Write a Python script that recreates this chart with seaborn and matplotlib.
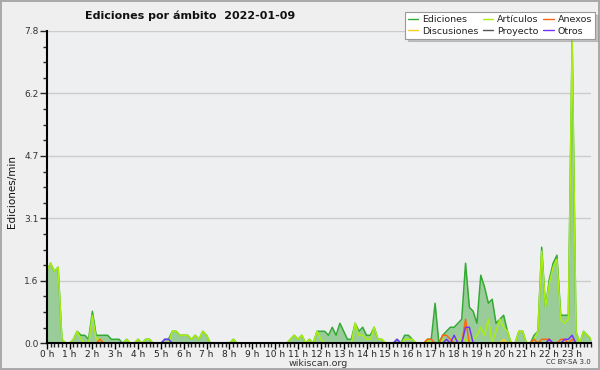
import matplotlib
matplotlib.use("Agg")
import matplotlib.pyplot as plt
from matplotlib.lines import Line2D
from matplotlib.ticker import FixedLocator, MultipleLocator
import pandas as pd
import seaborn as sns


# one value every 10 minutes, one row per hour (edits/min)
EDICIONES = [
    1.8, 2.0, 1.8, 1.9, 0.1, 0.0,
    0.0, 0.1, 0.3, 0.2, 0.2, 0.1,
    0.8, 0.2, 0.2, 0.2, 0.2, 0.1,
    0.1, 0.1, 0.0, 0.1, 0.0, 0.0,
    0.1, 0.0, 0.1, 0.1, 0.0, 0.0,
    0.0, 0.1, 0.1, 0.3, 0.3, 0.2,
    0.2, 0.2, 0.1, 0.2, 0.1, 0.3,
    0.2, 0.0, 0.0, 0.0, 0.0, 0.0,
    0.0, 0.1, 0.0, 0.0, 0.0, 0.0,
    0.0, 0.0, 0.0, 0.0, 0.0, 0.0,
    0.0, 0.0, 0.0, 0.0, 0.1, 0.2,
    0.1, 0.2, 0.0, 0.1, 0.0, 0.3,
    0.3, 0.3, 0.2, 0.4, 0.2, 0.5,
    0.3, 0.1, 0.1, 0.5, 0.3, 0.4,
    0.2, 0.2, 0.4, 0.1, 0.1, 0.0,
    0.0, 0.0, 0.1, 0.0, 0.2, 0.2,
    0.1, 0.0, 0.0, 0.0, 0.1, 0.1,
    1.0, 0.0, 0.2, 0.3, 0.4, 0.4,
    0.5, 0.6, 2.0, 0.9, 0.8, 0.5,
    1.7, 1.4, 1.0, 1.1, 0.5, 0.6,
    0.7, 0.3, 0.0, 0.0, 0.3, 0.3,
    0.0, 0.0, 0.2, 0.3, 2.4, 0.9,
    1.6, 2.0, 2.2, 0.7, 0.7, 0.7,
    7.6, 0.3, 0.0, 0.3, 0.2, 0.1,
]

ARTICULOS = [
    1.8, 2.0, 1.8, 1.9, 0.1, 0.0,
    0.0, 0.1, 0.3, 0.1, 0.0, 0.0,
    0.7, 0.1, 0.1, 0.0, 0.0, 0.0,
    0.0, 0.0, 0.0, 0.1, 0.0, 0.0,
    0.1, 0.0, 0.1, 0.1, 0.0, 0.0,
    0.0, 0.0, 0.0, 0.3, 0.3, 0.2,
    0.2, 0.2, 0.1, 0.2, 0.1, 0.3,
    0.2, 0.0, 0.0, 0.0, 0.0, 0.0,
    0.0, 0.1, 0.0, 0.0, 0.0, 0.0,
    0.0, 0.0, 0.0, 0.0, 0.0, 0.0,
    0.0, 0.0, 0.0, 0.0, 0.1, 0.2,
    0.1, 0.2, 0.0, 0.1, 0.0, 0.3,
    0.1, 0.0, 0.0, 0.0, 0.0, 0.0,
    0.0, 0.0, 0.0, 0.5, 0.2, 0.2,
    0.1, 0.1, 0.4, 0.1, 0.1, 0.0,
    0.0, 0.0, 0.0, 0.0, 0.1, 0.1,
    0.1, 0.0, 0.0, 0.0, 0.1, 0.0,
    0.0, 0.0, 0.1, 0.0, 0.1, 0.1,
    0.1, 0.1, 0.1, 0.0, 0.1, 0.2,
    0.4, 0.2, 0.6, 0.0, 0.3, 0.6,
    0.4, 0.3, 0.0, 0.0, 0.3, 0.3,
    0.0, 0.0, 0.1, 0.3, 2.3, 0.9,
    1.5, 1.9, 2.1, 0.6, 0.5, 0.6,
    7.6, 0.3, 0.0, 0.3, 0.2, 0.1,
]

ANEXOS = [
    0.0, 0.0, 0.0, 0.0, 0.0, 0.0,
    0.0, 0.0, 0.0, 0.0, 0.0, 0.0,
    0.0, 0.0, 0.1, 0.0, 0.0, 0.0,
    0.0, 0.0, 0.0, 0.0, 0.0, 0.0,
    0.0, 0.0, 0.0, 0.0, 0.0, 0.0,
    0.0, 0.0, 0.0, 0.0, 0.0, 0.0,
    0.0, 0.0, 0.0, 0.0, 0.0, 0.0,
    0.0, 0.0, 0.0, 0.0, 0.0, 0.0,
    0.0, 0.0, 0.0, 0.0, 0.0, 0.0,
    0.0, 0.0, 0.0, 0.0, 0.0, 0.0,
    0.0, 0.0, 0.0, 0.0, 0.0, 0.0,
    0.0, 0.0, 0.0, 0.0, 0.0, 0.0,
    0.0, 0.0, 0.0, 0.0, 0.0, 0.0,
    0.0, 0.0, 0.0, 0.0, 0.0, 0.0,
    0.0, 0.0, 0.0, 0.0, 0.0, 0.0,
    0.0, 0.0, 0.0, 0.0, 0.0, 0.0,
    0.0, 0.0, 0.0, 0.0, 0.1, 0.1,
    0.0, 0.0, 0.2, 0.2, 0.1, 0.0,
    0.0, 0.0, 0.6, 0.0, 0.0, 0.0,
    0.0, 0.0, 0.0, 0.0, 0.0, 0.0,
    0.0, 0.0, 0.0, 0.0, 0.0, 0.0,
    0.0, 0.0, 0.1, 0.0, 0.1, 0.1,
    0.1, 0.0, 0.0, 0.1, 0.1, 0.0,
    0.1, 0.0, 0.0, 0.0, 0.0, 0.0,
]

OTROS = [
    0.0, 0.0, 0.0, 0.0, 0.0, 0.0,
    0.0, 0.0, 0.0, 0.0, 0.0, 0.0,
    0.0, 0.0, 0.0, 0.0, 0.0, 0.0,
    0.0, 0.0, 0.0, 0.0, 0.0, 0.0,
    0.0, 0.0, 0.0, 0.0, 0.0, 0.0,
    0.0, 0.1, 0.1, 0.0, 0.0, 0.0,
    0.0, 0.0, 0.0, 0.0, 0.0, 0.0,
    0.0, 0.0, 0.0, 0.0, 0.0, 0.0,
    0.0, 0.0, 0.0, 0.0, 0.0, 0.0,
    0.0, 0.0, 0.0, 0.0, 0.0, 0.0,
    0.0, 0.0, 0.0, 0.0, 0.0, 0.0,
    0.0, 0.0, 0.0, 0.0, 0.0, 0.0,
    0.0, 0.0, 0.0, 0.0, 0.0, 0.0,
    0.0, 0.0, 0.0, 0.0, 0.0, 0.0,
    0.0, 0.0, 0.0, 0.0, 0.0, 0.0,
    0.0, 0.0, 0.1, 0.0, 0.0, 0.0,
    0.0, 0.0, 0.0, 0.0, 0.0, 0.0,
    0.0, 0.0, 0.0, 0.1, 0.0, 0.2,
    0.0, 0.0, 0.4, 0.4, 0.0, 0.0,
    0.0, 0.0, 0.0, 0.0, 0.0, 0.0,
    0.0, 0.0, 0.0, 0.0, 0.0, 0.0,
    0.0, 0.0, 0.0, 0.0, 0.0, 0.0,
    0.1, 0.0, 0.0, 0.0, 0.1, 0.1,
    0.2, 0.0, 0.0, 0.0, 0.0, 0.0,
]

DISCUSIONES = [
    0.0, 0.0, 0.0, 0.0, 0.0, 0.0,
    0.0, 0.0, 0.0, 0.0, 0.0, 0.0,
    0.0, 0.0, 0.0, 0.0, 0.0, 0.0,
    0.0, 0.0, 0.0, 0.0, 0.0, 0.0,
    0.0, 0.0, 0.0, 0.0, 0.0, 0.0,
    0.0, 0.0, 0.0, 0.0, 0.0, 0.0,
    0.0, 0.0, 0.0, 0.0, 0.0, 0.0,
    0.0, 0.0, 0.0, 0.0, 0.0, 0.0,
    0.0, 0.0, 0.0, 0.0, 0.0, 0.0,
    0.0, 0.0, 0.0, 0.0, 0.0, 0.0,
    0.0, 0.0, 0.0, 0.0, 0.0, 0.0,
    0.0, 0.0, 0.0, 0.0, 0.0, 0.0,
    0.0, 0.0, 0.0, 0.0, 0.0, 0.0,
    0.0, 0.0, 0.0, 0.0, 0.0, 0.0,
    0.0, 0.0, 0.0, 0.0, 0.0, 0.0,
    0.0, 0.0, 0.0, 0.0, 0.0, 0.0,
    0.0, 0.0, 0.0, 0.0, 0.0, 0.0,
    0.0, 0.0, 0.0, 0.0, 0.0, 0.0,
    0.0, 0.0, 0.0, 0.0, 0.0, 0.0,
    0.0, 0.0, 0.0, 0.0, 0.0, 0.0,
    0.1, 0.0, 0.0, 0.0, 0.0, 0.0,
    0.0, 0.0, 0.0, 0.0, 0.0, 0.0,
    0.0, 0.0, 0.0, 0.0, 0.0, 0.0,
    0.0, 0.0, 0.0, 0.0, 0.0, 0.0,
]

HOUR_LABELS = [f"{h} h" for h in range(24)]
Y_TICKS = [0.0, 1.56, 3.12, 4.68, 6.24, 7.8]
Y_LABELS = ["0.0", "1.6", "3.1", "4.7", "6.2", "7.8"]

COLORS = {
    "Ediciones": "#33aa33",
    "Artículos": "#aaee11",
    "Anexos": "#ff6611",
    "Discusiones": "#ffcc22",
    "Proyecto": "#555555",
    "Otros": "#7733ff",
}
FILL = "#99cc99"

series = {
    "Ediciones": EDICIONES,
    "Artículos": ARTICULOS,
    "Proyecto": [0.0] * len(EDICIONES),
    "Discusiones": DISCUSIONES,
    "Anexos": ANEXOS,
    "Otros": OTROS,
}
frames = []
for name, vals in series.items():
    frames.append(pd.DataFrame({"slot": range(len(vals)), "value": vals, "serie": name}))
df = pd.concat(frames, ignore_index=True)

sns.set_theme(style="ticks")
plt.rcParams["font.family"] = ["DejaVu Sans"]

fig = plt.figure(figsize=(6, 3.7), dpi=100)
fig.patch.set_facecolor("#efefef")
fig.patch.set_edgecolor("#aaaaaa")
fig.patch.set_linewidth(1.5)

ax = fig.add_axes([46.7 / 600, 26.7 / 370, 544.5 / 600, 312.3 / 370])
ax.set_facecolor("#eeeff0")

ax.fill_between(range(len(EDICIONES)), EDICIONES, color=FILL, linewidth=0, zorder=1)
sns.lineplot(
    data=df,
    x="slot",
    y="value",
    hue="serie",
    hue_order=list(series.keys()),
    palette=COLORS,
    linewidth=1.1,
    legend=False,
    ax=ax,
)

ax.set_xlim(0, len(EDICIONES) - 1)
ax.set_ylim(0, 7.8)
ax.xaxis.set_major_locator(FixedLocator(range(0, 144, 6)))
ax.set_xticklabels(HOUR_LABELS)
ax.xaxis.set_minor_locator(MultipleLocator(1))
ax.yaxis.set_major_locator(FixedLocator(Y_TICKS))
ax.set_yticklabels(Y_LABELS)
ax.yaxis.set_minor_locator(MultipleLocator(0.39))
ax.tick_params(axis="x", which="major", length=4, width=1, labelsize=6.5, pad=0.8,
               colors="black", labelcolor="#222222")
ax.tick_params(axis="x", which="minor", length=3, width=1)
ax.tick_params(axis="y", which="major", length=5, width=1, labelsize=6.5, pad=1,
               labelcolor="#333333")
ax.tick_params(axis="y", which="minor", length=3, width=1)
ax.yaxis.grid(True, which="major", color="#cccccc", linewidth=1)
ax.set_xlabel("")
ax.set_ylabel("")
for side in ["top", "right"]:
    ax.spines[side].set_visible(False)
for side in ["left", "bottom"]:
    ax.spines[side].set_color("black")
    ax.spines[side].set_linewidth(1.5)
    ax.spines[side].set_zorder(5)

fig.text(85 / 600, 1 - 16 / 370, "Ediciones por ámbito  2022-01-09",
         fontsize=8.0, fontweight="bold", ha="left", va="center", color="#111111")
fig.text(12 / 600, 1 - 192 / 370, "Ediciones/min", rotation=90,
         fontsize=7.5, ha="center", va="center", color="#111111")
fig.text(318 / 600, 1 - 363.5 / 370, "wikiscan.org", fontsize=6.8,
         ha="center", va="center", color="#333333")
fig.text(591 / 600, 1 - 362 / 370, "CC BY-SA 3.0", fontsize=5,
         ha="right", va="center", color="#333333")

order = ["Ediciones", "Discusiones", "Artículos", "Proyecto", "Anexos", "Otros"]
handles = [Line2D([], [], color=COLORS[n], linewidth=1) for n in order]
leg = fig.legend(
    handles, order, ncol=3, loc="upper left",
    bbox_to_anchor=(405 / 600, 1 - 12 / 370),
    fontsize=6.8, frameon=True, fancybox=False,
    shadow={"ox": 2, "oy": -2, "shade": 0.4},
    edgecolor="#999999", facecolor="white", framealpha=1,
    handlelength=1.1, handletextpad=0.4, columnspacing=0.5,
    labelspacing=0.3, borderpad=0.3, borderaxespad=0,
)
leg.get_frame().set_linewidth(0.8)
for t in leg.get_texts():
    t.set_color("#222222")

fig.savefig("out.png", dpi=100)
